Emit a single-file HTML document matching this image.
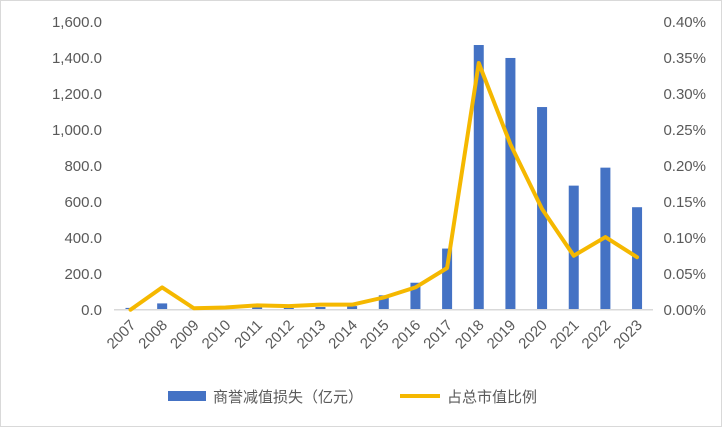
<!DOCTYPE html>
<html><head><meta charset="utf-8"><style>
body{margin:0;background:#fff}
svg text{font-family:"Liberation Sans","Noto Sans CJK SC",sans-serif;fill:#595959;font-size:15px}
</style></head><body>
<svg id="s" width="722" height="427" xmlns="http://www.w3.org/2000/svg">
<rect x="0.5" y="0.5" width="721" height="426" fill="#fff" stroke="#d9d9d9"/>
<g text-anchor="end">
<text x="102" y="27">1,600.0</text>
<text x="102" y="63">1,400.0</text>
<text x="102" y="99">1,200.0</text>
<text x="102" y="135">1,000.0</text>
<text x="102" y="171">800.0</text>
<text x="102" y="207">600.0</text>
<text x="102" y="243">400.0</text>
<text x="102" y="279">200.0</text>
<text x="102" y="315">0.0</text>
</g>
<g text-anchor="end">
<text x="706" y="27">0.40%</text>
<text x="706" y="63">0.35%</text>
<text x="706" y="99">0.30%</text>
<text x="706" y="135">0.25%</text>
<text x="706" y="171">0.20%</text>
<text x="706" y="207">0.15%</text>
<text x="706" y="243">0.10%</text>
<text x="706" y="279">0.05%</text>
<text x="706" y="315">0.00%</text>
</g>
<g id="bars" fill="#4472C4"></g>
<line x1="114" y1="309.7" x2="653" y2="309.7" stroke="#d9d9d9" stroke-width="1.5"/>
<path id="ln" fill="none" stroke="#F5B800" stroke-width="4" stroke-linejoin="round" stroke-linecap="round"/>
<g id="lbl"></g>
<rect x="168" y="391" width="38" height="10" fill="#4472C4"/>
<text x="213" y="402">商誉减值损失（亿元）</text>
<line x1="400" y1="396" x2="440" y2="396" stroke="#F5B800" stroke-width="4"/>
<text x="447" y="402">占总市值比例</text>
</svg>
<script>
var v=[10,35,5,5,15,10,15,20,80,150,340,1472,1400,1127,690,790,570];
var r=[0.0,0.031,0.002,0.003,0.006,0.005,0.007,0.007,0.017,0.031,0.058,0.343,0.23,0.14,0.075,0.101,0.073];
var base=309.7,h=287.7,ns="http://www.w3.org/2000/svg";
var bars=document.getElementById('bars'),lbl=document.getElementById('lbl');
var pts=[];
for(var i=0;i<17;i++){
 var cx=130.5+i*31.66;
 var bh=v[i]/1600*h;
 var rc=document.createElementNS(ns,'rect');
 rc.setAttribute('x',cx-5);rc.setAttribute('y',base-bh);rc.setAttribute('width',10);rc.setAttribute('height',bh);
 bars.appendChild(rc);
 pts.push([cx,base-r[i]/0.4*h]);
 var t=document.createElementNS(ns,'text');
 t.setAttribute('text-anchor','end');
 t.setAttribute('transform','translate('+(cx+6)+',326) rotate(-45)');
 t.textContent=2007+i;lbl.appendChild(t);
}
var d='M'+pts.map(function(p){return p[0]+','+p[1];}).join(' L');
document.getElementById('ln').setAttribute('d',d);
</script>
</body></html>
